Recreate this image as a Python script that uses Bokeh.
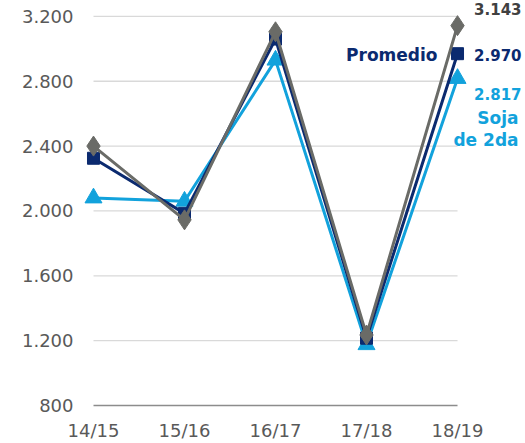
from bokeh.plotting import figure
from bokeh.models import Range1d, FixedTicker
from bokeh.core.properties import value
from bokeh.embed import file_html
from bokeh.resources import INLINE

# ---- data ----
years = ["14/15", "15/16", "16/17", "17/18", "18/19"]
soja_1ra = [2400, 1945, 3105, 1235, 3143]
promedio = [2325, 1985, 3060, 1215, 2970]
soja_2da = [2080, 2060, 2930, 1175, 2817]
y_ticks = [800, 1200, 1600, 2000, 2400, 2800, 3200]

def fmt(v):
    return f"{v:,}".replace(",", ".")

GRAY = "#6a6b67"
NAVY = "#0b2a6f"
LBLUE = "#12a2dc"
FONT = "DejaVu Sans"

xs = list(range(len(years)))

p = figure(width=525, height=443, output_backend="svg", toolbar_location=None,
           x_range=Range1d(-0.1648, 4.747), y_range=Range1d(781.6, 3298),
           min_border_left=78, min_border_right=0, min_border_top=0, min_border_bottom=32)
p.outline_line_color = None
p.xgrid.visible = False
p.ygrid.visible = False
p.background_fill_color = "white"
p.border_fill_color = "white"

# gridlines from first to last category
grid_colors = ["#8c8c8c"] + ["#d9d9d9"] * (len(y_ticks) - 1)
p.segment(x0=[xs[0]] * len(y_ticks), x1=[xs[-1]] * len(y_ticks), y0=y_ticks, y1=y_ticks,
          line_color=grid_colors, line_width=1.3)

# axes
p.yaxis.ticker = FixedTicker(ticks=y_ticks)
p.yaxis.major_label_overrides = {t: fmt(t) for t in y_ticks}
p.xaxis.ticker = FixedTicker(ticks=xs)
p.xaxis.major_label_overrides = {i: y for i, y in enumerate(years)}
for ax in (p.xaxis[0], p.yaxis[0]):
    ax.axis_line_color = None
    ax.major_tick_line_color = None
    ax.minor_tick_line_color = None
    ax.major_tick_out = 0
    ax.major_tick_in = 0
    ax.minor_tick_out = 0
    ax.major_label_text_font = FONT
    ax.major_label_text_font_size = "18px"
    ax.major_label_text_color = "#595959"
p.yaxis.major_label_standoff = 5
p.xaxis.major_label_standoff = 11

# series
p.line(xs, soja_2da, line_color=LBLUE, line_width=3)
p.scatter(xs, soja_2da, marker="triangle", size=17, fill_color=LBLUE, line_color=LBLUE)
p.line(xs, promedio, line_color=NAVY, line_width=3)
p.scatter(xs, promedio, marker="square", size=12, fill_color=NAVY, line_color=NAVY)
p.line(xs, soja_1ra, line_color=GRAY, line_width=3)
p.scatter(xs, soja_1ra, marker="diamond", size=20, fill_color=GRAY, line_color=GRAY)

# end labels
last = xs[-1]
p.text(x=[last], y=[soja_1ra[-1]], text=[fmt(soja_1ra[-1])], text_align="right",
       text_baseline="middle", x_offset=64, y_offset=-17, text_font=value(FONT),
       text_font_style="bold", text_font_size="15px", text_color="#404040")
p.text(x=[last], y=[promedio[-1]], text=[fmt(promedio[-1])], text_align="right",
       text_baseline="middle", x_offset=64, y_offset=1, text_font=value(FONT),
       text_font_style="bold", text_font_size="15px", text_color=NAVY)
p.text(x=[last], y=[promedio[-1]], text=["Promedio"], text_align="right",
       text_baseline="middle", x_offset=-20, y_offset=1, text_font=value(FONT),
       text_font_style="bold", text_font_size="17px", text_color=NAVY)
p.text(x=[last], y=[soja_2da[-1]], text=[fmt(soja_2da[-1])], text_align="right",
       text_baseline="middle", x_offset=64, y_offset=16, text_font=value(FONT),
       text_font_style="bold", text_font_size="15px", text_color=LBLUE)
p.text(x=[last], y=[soja_2da[-1]], text=["Soja"], text_align="right",
       text_baseline="middle", x_offset=61, y_offset=40, text_font=value(FONT),
       text_font_style="bold", text_font_size="17px", text_color=LBLUE)
p.text(x=[last], y=[soja_2da[-1]], text=["de 2da"], text_align="right",
       text_baseline="middle", x_offset=61, y_offset=62, text_font=value(FONT),
       text_font_style="bold", text_font_size="17px", text_color=LBLUE)

open("out.html", "w").write(file_html(p, INLINE))
